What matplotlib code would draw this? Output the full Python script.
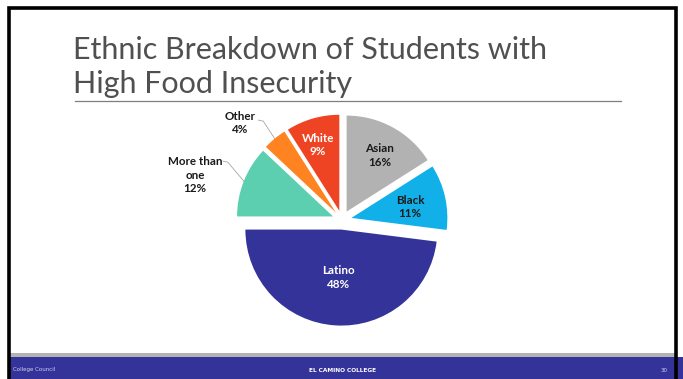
import numpy as np
import matplotlib.pyplot as plt
from matplotlib.patches import Rectangle

# data
groups = ['Asian', 'Black', 'Latino', 'More than\none', 'Other', 'White']
shares = [16, 11, 48, 12, 4, 9]
colors = ['#B2B2B2', '#12B0E8', '#333399', '#5CCFB0', '#FF8421', '#EE4423']
text_colors = ['#1a1a1a', '#1a1a1a', 'white', '#1a1a1a', '#1a1a1a', 'white']
# label placement (radius from pie centre, angle shift in degrees)
label_r = [0.78, 0.72, 0.6, 1.6, 1.465, 0.82]
label_shift = [-1.5, -1.8, 0, 4.6, 6.8, 1.5]
outside = [False, False, False, True, True, False]

W, H = 683, 379
fig = plt.figure(figsize=(W / 100, H / 100), dpi=100)
fig.patch.set_facecolor('white')

# slide background layer
bg = fig.add_axes([0, 0, 1, 1])
bg.set_xlim(0, W)
bg.set_ylim(H, 0)
bg.axis('off')
bg.add_patch(Rectangle((9, 353), 668, 4, color='#B3B3B3', lw=0))
bg.add_patch(Rectangle((9, 357), 674, 22, color='#333399', lw=0))
bg.plot([9, 9, 676, 676], [379, 8, 8, 379], color='black', lw=2.6, solid_joinstyle='miter')
bg.plot([75, 621], [101, 101], color='#7f7f7f', lw=0.9)

title_font = ['Lato', 'DejaVu Sans']
bg.text(73, 50, 'Ethnic Breakdown of Students with', fontsize=22, family=title_font,
        fontweight='normal', color='#505050', va='center', ha='left')
bg.text(73, 84, 'High Food Insecurity', fontsize=22, family=title_font,
        fontweight='normal', color='#505050', va='center', ha='left')

bg.text(13, 370, 'College Council', fontsize=4, color='#d0d0f0', va='center', ha='left')
bg.text(343, 370, 'EL CAMINO COLLEGE', fontsize=4.2, color='white', fontweight='bold',
        va='center', ha='center')
bg.text(668, 370, '30', fontsize=4, color='#d0d0f0', va='center', ha='right')

# pie axes: center (342, 220) px, radius 96 px
cx, cy, R = 342, 220, 96
lim = 1.35
size = 2 * lim * R
ax = fig.add_axes([(cx - size / 2) / W, 1 - (cy + size / 2) / H, size / W, size / H])
wedges, _ = ax.pie(shares, colors=colors, startangle=90, counterclock=False,
                   explode=[0.1] * len(shares), radius=1.0,
                   wedgeprops=dict(linewidth=0))
ax.set_xlim(-lim, lim)
ax.set_ylim(-lim, lim)
ax.set_aspect('equal')
ax.axis('off')

lab_font = ['Lato', 'DejaVu Sans']
for w, g, s, tc, r, sh, out in zip(wedges, groups, shares, text_colors,
                                   label_r, label_shift, outside):
    mid_deg = (w.theta1 + w.theta2) / 2
    mid = np.deg2rad(mid_deg)
    a = np.deg2rad(mid_deg + sh)
    tx, ty = r * np.cos(a), r * np.sin(a)
    ax.text(tx, ty, f'{g}\n{s}%', ha='center', va='center', fontsize=8.4,
            fontweight='bold', color=tc, family=lab_font, linespacing=1.3)
    if out:
        ex, ey = w.center
        px, py = ex + np.cos(mid), ey + np.sin(mid)
        if g == 'Other':
            sx, sy = tx + 0.19, ty + 0.03
        else:
            sx, sy = tx + 0.29, ty + 0.145
        ax.plot([sx, sx + 0.05, px], [sy, sy - 0.01, py], color='#a6a6a6', lw=0.6)

fig.savefig('out.png', dpi=100)
